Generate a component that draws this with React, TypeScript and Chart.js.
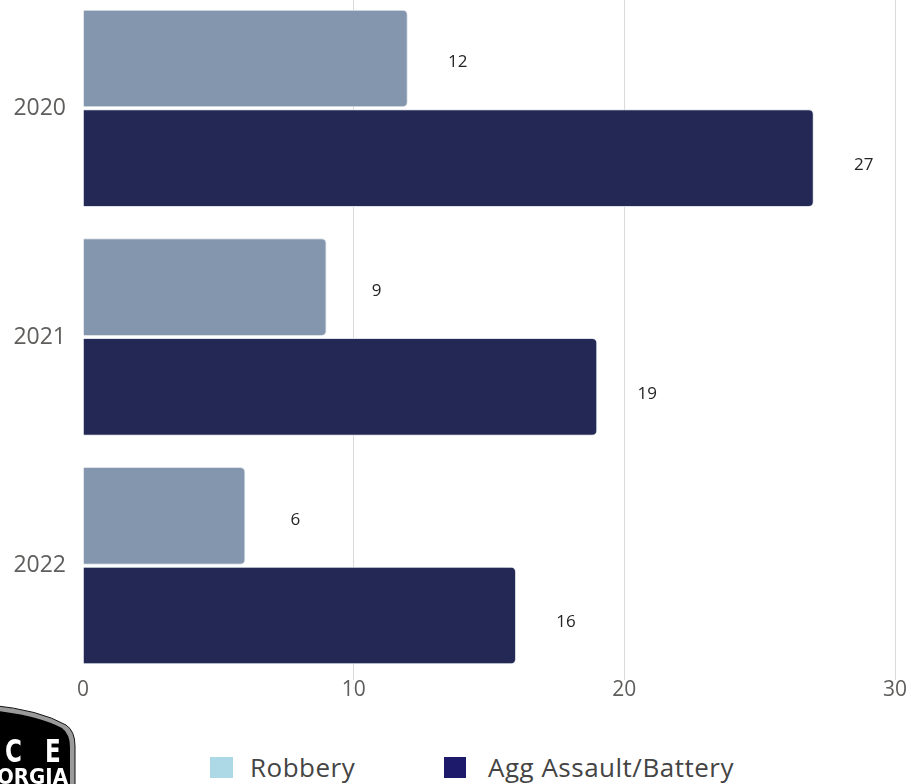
import React, { useEffect, useRef } from "react";
import { Chart, registerables } from "chart.js";

Chart.register(...registerables);

// ---- data ----
const years = ["2020", "2021", "2022"];
const robbery = [12, 9, 6];
const aggAssault = [27, 19, 16];
const seriesNames = ["Robbery", "Agg Assault/Battery"];
const xMin = 0;
const xMax = 30;
const xStep = 10;

const FONT = "'Open Sans', 'DejaVu Sans', sans-serif";

const valueLabels = {
  id: "valueLabels",
  afterDatasetsDraw(chart: any) {
    const ctx = chart.ctx;
    ctx.save();
    ctx.font = `17px ${FONT}`;
    ctx.fillStyle = "#252423";
    ctx.textAlign = "center";
    ctx.textBaseline = "middle";
    chart.data.datasets.forEach((ds: any, i: number) => {
      const meta = chart.getDatasetMeta(i);
      const dy = i === 0 ? 4 : 7;
      meta.data.forEach((bar: any, j: number) => {
        ctx.fillText(String(ds.data[j]), bar.x + 50, bar.y + dy);
      });
    });
    ctx.restore();
  },
};

function ChartCanvas() {
  const ref = useRef<HTMLCanvasElement | null>(null);
  useEffect(() => {
    if (!ref.current) return;
    const chart = new Chart(ref.current, {
      type: "bar",
      data: {
        labels: years,
        datasets: [
          {
            label: seriesNames[0],
            data: robbery,
            backgroundColor: "#8396AE",
            borderColor: "#dde2e8",
            borderWidth: 1,
            borderRadius: 5,
            categoryPercentage: 0.872,
            barPercentage: 0.98,
          },
          {
            label: seriesNames[1],
            data: aggAssault,
            backgroundColor: "#232954",
            borderColor: "#dde2e8",
            borderWidth: 1,
            borderRadius: 5,
            categoryPercentage: 0.872,
            barPercentage: 0.98,
          },
        ],
      },
      options: {
        indexAxis: "y",
        responsive: false,
        animation: false,
        layout: { padding: { left: 0, right: 14, top: 0, bottom: 0 } },
        plugins: {
          legend: { display: false },
          tooltip: { enabled: false },
        },
        scales: {
          x: {
            min: xMin,
            max: xMax,
            border: { display: false },
            grid: {
              drawTicks: false,
              color: (c: any) => (c.tick && c.tick.value === 0 ? "rgba(0,0,0,0)" : "#d9d9d9"),
              lineWidth: 1,
            },
            ticks: {
              stepSize: xStep,
              padding: -3,
              color: "#605E5C",
              font: { family: FONT, size: 21 },
            },
            afterFit: (axis: any) => {
              axis.height = 34;
              axis.paddingLeft = 0;
              axis.paddingRight = 0;
            },
          },
          y: {
            border: { display: false },
            grid: { display: false, drawTicks: false },
            ticks: {
              padding: 17,
              color: "#605E5C",
              font: { family: FONT, size: 23 },
            },
            afterFit: (axis: any) => {
              axis.width = 83;
              axis.paddingTop = 0;
              axis.paddingBottom = 0;
            },
          },
        },
      },
      plugins: [valueLabels],
    } as any);
    return () => chart.destroy();
  }, []);
  return (
    <canvas
      ref={ref}
      width={909}
      height={720}
      style={{ position: "absolute", left: 0, top: -6, width: 909, height: 720 }}
    />
  );
}

function Logo() {
  const narrow = "'Liberation Sans Narrow', 'DejaVu Sans Condensed', sans-serif";
  return (
    <svg
      width={80}
      height={84}
      style={{ position: "absolute", left: 0, top: 700 }}
    >
      <path d="M-10,5 Q40,10 66,25 Q75,31 75,46 L75,90 L-10,90 Z" fill="#9a9a9a" stroke="#111" strokeWidth={1} />
      <path d="M-10,10 Q38,15 62,28 Q70,34 70,47 L70,90 L-10,90 Z" fill="#000" />
      <text x={5} y={62} fill="#fff" fontFamily={narrow} fontWeight="bold" fontSize={32} transform="translate(5 0) scale(0.8 1) translate(-5 0)">C</text>
      <text x={45} y={62} fill="#fff" fontFamily={narrow} fontWeight="bold" fontSize={32} transform="translate(45 0) scale(0.8 1) translate(-45 0)">E</text>
      <text x={-3} y={84} fill="#fff" fontFamily={narrow} fontWeight="bold" fontSize={22}>ORGIA</text>
    </svg>
  );
}

function Legend() {
  const textStyle: React.CSSProperties = {
    position: "absolute",
    top: 754,
    fontFamily: FONT,
    fontSize: 26,
    lineHeight: "26px",
    letterSpacing: "0.5px",
    color: "#444",
    whiteSpace: "nowrap",
  };
  return (
    <>
      <div style={{ position: "absolute", left: 210, top: 757, width: 23, height: 21, background: "#ADD8E6" }} />
      <div style={{ ...textStyle, left: 250 }}>{seriesNames[0]}</div>
      <div style={{ position: "absolute", left: 444, top: 757, width: 22, height: 21, background: "#1E1A6B" }} />
      <div style={{ ...textStyle, left: 488 }}>{seriesNames[1]}</div>
    </>
  );
}

export default function App() {
  return (
    <div style={{ position: "absolute", left: 0, top: 0, width: 909, height: 784, overflow: "hidden" }}>
      <ChartCanvas />
      <Logo />
      <Legend />
    </div>
  );
}
